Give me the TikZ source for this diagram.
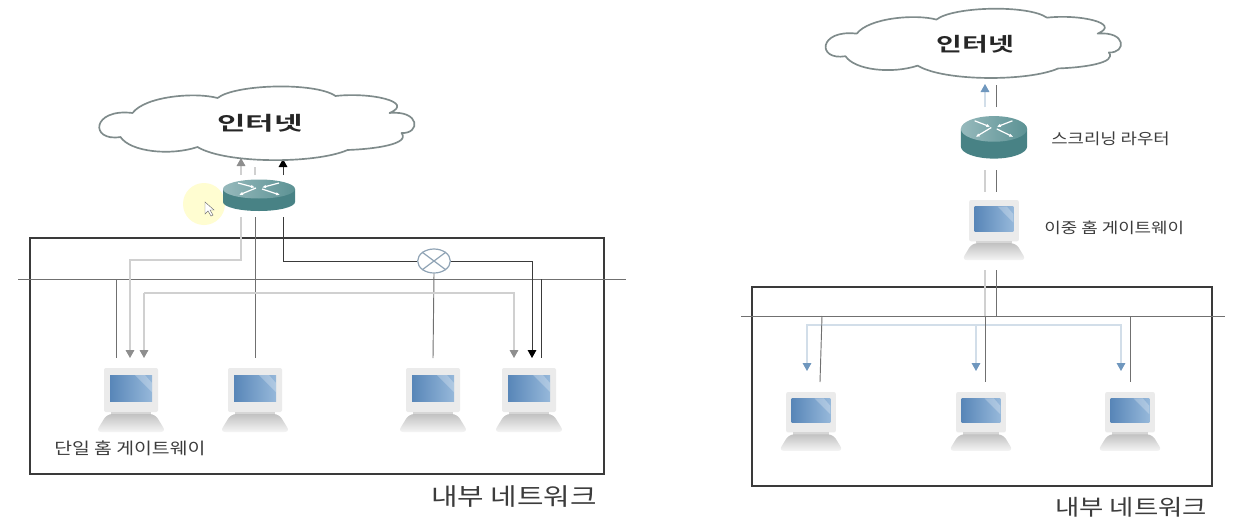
\documentclass[tikz,border=0pt]{standalone}
\usepackage{fontspec}
\newfontfamily\kr{Noto Sans CJK KR}
\newfontfamily\krb{Noto Sans CJK KR Bold}
\usetikzlibrary{arrows.meta,shapes.geometric}
\definecolor{lgr}{HTML}{D0D0D0}
\definecolor{lgt}{HTML}{8E8E8E}
\definecolor{dgr}{HTML}{707070}
\definecolor{blu}{HTML}{D2DEE9}
\definecolor{blt}{HTML}{6F97BE}
\definecolor{frm}{HTML}{3A3A3A}
\definecolor{txt}{HTML}{3C3C3C}
\definecolor{cld}{HTML}{7F8B8B}
\definecolor{natc}{HTML}{8FA3B5}
\tikzset{
  frame/.style={draw=frm,line width=.95pt},
  bus/.style={draw=dgr,line width=.6pt},
  darkline/.style={draw=dgr,line width=.7pt},
  blackline/.style={draw=frm,line width=.65pt},
  lightline/.style={draw=lgr,line width=.85pt},
  blueline/.style={draw=blu,line width=.85pt},
  lighttip/.style={lightline,-{Triangle[length=6pt,width=6.5pt,color=lgt]}},
  blacktip/.style={blackline,-{Triangle[length=6pt,width=6.5pt,color=black]}},
  bluetip/.style={blueline,-{Triangle[length=6pt,width=6.5pt,color=blt]}},
  lab/.style={text=txt,inner sep=0pt,font=\kr},
  cloudtext/.style={text=black!85,inner sep=0pt,font=\krb\fontsize{14.5}{16}\selectfont},
  cloudshape/.pic={
    \draw[draw=cld,line width=1.25pt,fill=white,line join=round]
      (-123,-11) .. controls (-110,-28) and (-60,-32) .. (-38,-26)
      .. controls (-20,-40) and (60,-42) .. (80,-28)
      .. controls (115,-32) and (160,-22) .. (134,-11)
      .. controls (165,-14) and (165,10) .. (146,9)
      .. controls (155,20) and (120,25) .. (92,26)
      .. controls (60,40) and (-30,40) .. (-58,23)
      .. controls (-85,32) and (-125,28) .. (-135,13)
      .. controls (-166,18) and (-164,-16) .. cycle;
  },
  routershape/.pic={
    \fill[color={rgb,255:red,72;green,130;blue,133}] (-36,-6) -- (-36,7) arc[start angle=180,end angle=0,x radius=36,y radius=9] -- (36,-6) -- cycle;
    \shade[left color={rgb,255:red,150;green,185;blue,188},right color={rgb,255:red,92;green,146;blue,148}] (0,-6) ellipse[x radius=36,y radius=9.5];
    \draw[white,line width=.9pt,-{Latex[length=3pt,width=2.5pt]}] (-3,-7) -- (-20,0);
    \draw[white,line width=.9pt,-{Latex[length=3pt,width=2.5pt]}] (20,-12) -- (3,-7.5);
    \draw[white,line width=.9pt,-{Latex[length=3pt,width=2.5pt]}] (-21,-12) -- (-4,-7.5);
    \draw[white,line width=.9pt,-{Latex[length=3pt,width=2.5pt]}] (3,-6) -- (21,0);
  },
  computershape/.pic={
    \fill[black!8,rounded corners=1.5pt] (-27,0) rectangle (27,44);
    \fill[black!16] (-20,44) rectangle (20,47);
    \shade[top color=black!24,bottom color=black!4,rounded corners=4pt] (-24,46) -- (24,46) -- (35,64) -- (-35,64) -- cycle;
    \shade[left color={rgb,255:red,88;green,134;blue,184},right color={rgb,255:red,150;green,184;blue,218}] (-21,7) rectangle (21,33);
    \fill[white,opacity=.25] (4,7) -- (14,7) -- (21,15) -- (21,24) -- cycle;
  }
}
\begin{document}
\begin{tikzpicture}[x=.75pt,y=-.75pt]
\useasboundingbox (0,0) rectangle (1236,532);
\fill[white] (0,0) rectangle (1236,532);

%% left panel
\draw[frame] (30,238) rectangle (604,474);
\coordinate (lbusW) at (18,279); \coordinate (lbusE) at (626,279);
\draw[bus] (lbusW) -- (lbusE);

\coordinate (lrA0) at (241,217); \coordinate (lrA1) at (241,175); \coordinate (lcA) at (241,158);
\coordinate (lrB0) at (255,217); \coordinate (lrB1) at (255,175); \coordinate (lcB) at (255,167);
\coordinate (lrC0) at (283,217); \coordinate (lrC1) at (283,175); \coordinate (lcC) at (283,159);
\coordinate (pc1a) at (130,358); \coordinate (pc1b) at (144,358); \coordinate (pc1c) at (116,358);
\coordinate (pc2a) at (255,358);
\coordinate (pc3a) at (433,358);
\coordinate (pc4a) at (514,358); \coordinate (pc4b) at (532,358); \coordinate (pc4c) at (541,358);
\coordinate (busP1) at (116,279); \coordinate (busP4) at (541,279);

\node[draw=natc,line width=.9pt,fill=white,ellipse,minimum width=24.5pt,minimum height=18pt,inner sep=0pt] (lnat) at (434,261) {};
\draw[draw=natc,line width=.9pt] (lnat.north west) -- (lnat.south east) (lnat.north east) -- (lnat.south west);

\draw[lighttip] (lrA1) -- (lcA);
\draw[lightline] (lrB1) -- (lcB);
\draw[blacktip] (lrC1) -- (lcC);
\draw[lighttip] (lrA0) |- (130,260) -- (pc1a);
\draw[darkline] (lrB0) -- (pc2a);
\draw[blackline] (lrC0) |- (lnat.west);
\draw[blacktip] (lnat.east) -| (pc4b);
\draw[darkline] (lnat.south) -- (pc3a);
\draw[lighttip] (144,293) -- (pc1b);
\draw[lighttip] (144,293) -- (514,293) -- (pc4a);
\draw[darkline] (busP1) -- (pc1c);
\draw[blackline] (busP4) -- (pc4c);

\fill[yellow!18] (204,204) circle[radius=21];
\draw[black!55,fill=white,line width=.35pt] (205,202) -- (205,214) -- (208,211) -- (211,216) -- (213,215) -- (210,210) -- (214,210) -- cycle;

\pic at (255.5,124) {cloudshape};
\node[cloudtext] (linet) at (260,123) {\scalebox{1.6}[1]{인터넷}};
\pic at (259,195) {routershape};
\coordinate (c1) at (131,368); \pic at (c1) {computershape};
\coordinate (c2) at (255,368); \pic at (c2) {computershape};
\coordinate (c3) at (433,368); \pic at (c3) {computershape};
\coordinate (c4) at (529,368); \pic at (c4) {computershape};
\node[lab,anchor=west,font=\kr\fontsize{12.2}{14}\selectfont] (lsingle) at (54,448) {\scalebox{1.19}[1]{단일 홈 게이트웨이}};
\node[lab,anchor=west,font=\kr\fontsize{18}{20}\selectfont] (lnet) at (431,497) {\scalebox{1.2}[1]{내부 네트워크}};

%% right panel
\draw[frame] (752,287) rectangle (1212,486);
\coordinate (rbusW) at (741,316); \coordinate (rbusE) at (1225,316);
\draw[bus] (rbusW) -- (rbusE);

\coordinate (rrA1) at (985,107); \coordinate (rcA) at (985,84);
\coordinate (rrB1) at (996,107); \coordinate (rcB) at (996,85);
\coordinate (rrA0) at (985,170); \coordinate (rgA1) at (985,192);
\coordinate (rrB0) at (996,170); \coordinate (rgB1) at (996,192);
\coordinate (rgA0) at (985,270); \coordinate (rgB0) at (996,270);
\coordinate (rbusA) at (985,316); \coordinate (rbusB) at (996,316);
\coordinate (rbr) at (976,325);
\coordinate (d1a) at (807,371); \coordinate (d2a) at (976,371); \coordinate (d3a) at (1121,371);
\coordinate (d1b) at (820,382); \coordinate (d2b) at (985,382); \coordinate (d3b) at (1130,382);
\coordinate (rbus1) at (822,316); \coordinate (rbus3) at (1130,316);

\draw[bluetip] (rrA1) -- (rcA);
\draw[darkline] (rrB1) -- (rcB);
\draw[lightline] (rrA0) -- (rgA1);
\draw[darkline] (rrB0) -- (rgB1);
\draw[lightline] (rgA0) -- (rbusA);
\draw[darkline] (rgB0) -- (rbusB);
\draw[bluetip] (rbr) -- (d2a);
\draw[bluetip] (rbr) -| (d1a);
\draw[bluetip] (rbr) -| (d3a);
\draw[darkline] (rbusA) -- (d2b);
\draw[darkline] (rbus1) -- (d1b);
\draw[darkline] (rbus3) -- (d3b);

\pic[xscale=.937,yscale=.94] at (972,44) {cloudshape};
\node[cloudtext] (rinet) at (975.5,44) {\scalebox{1.45}[1]{인터넷}};
\pic[xscale=.92,yscale=1.35] at (994,137) {routershape};
\pic[xscale=.92,yscale=.94] at (994,200) {computershape};
\pic[xscale=.92,yscale=.92] at (811,392) {computershape};
\pic[xscale=.92,yscale=.92] at (981,392) {computershape};
\pic[xscale=.92,yscale=.92] at (1130,392) {computershape};
\node[lab,anchor=west,font=\kr\fontsize{11.5}{14}\selectfont] (rscreen) at (1051,139) {\scalebox{1.16}[1]{스크리닝 라우터}};
\node[lab,anchor=west,font=\kr\fontsize{11.2}{14}\selectfont] (rdual) at (1044,228) {\scalebox{1.2}[1]{이중 홈 게이트웨이}};
\node[lab,anchor=west,font=\kr\fontsize{16.5}{20}\selectfont] (rnet) at (1055,507) {\scalebox{1.2}[1]{내부 네트워크}};
\end{tikzpicture}
\end{document}
